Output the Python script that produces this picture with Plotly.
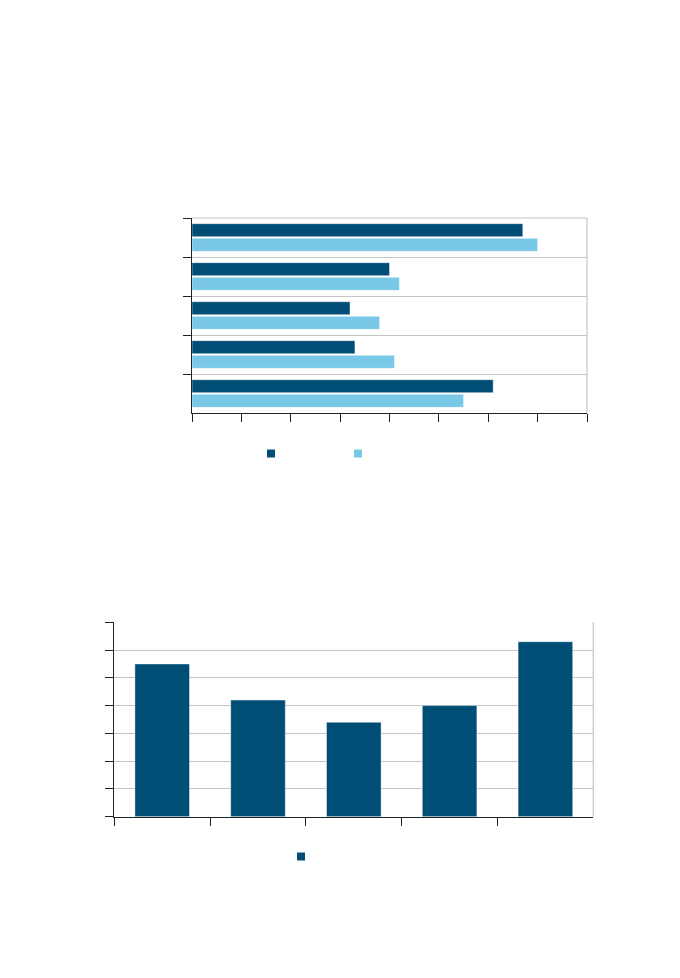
import plotly.graph_objects as go

# ---- data ----
top_categories = ["A", "B", "C", "D", "E"]          # top to bottom
top_dark = [6.7, 4.0, 3.2, 3.3, 6.1]
top_light = [7.0, 4.2, 3.8, 4.1, 5.5]

bottom_categories = ["A", "B", "C", "D", "E"]
bottom_values = [5.5, 4.2, 3.4, 4.0, 6.3]

DARK = "#004e75"
LIGHT = "#79c8e7"
GRID = "#c4c4c4"
AXIS = "#222222"

fig = go.Figure()

edge = dict(color="rgba(255,255,255,0.55)", width=0.8)

fig.add_trace(go.Bar(y=top_categories, x=top_dark, orientation="h", marker=dict(color=DARK, line=edge),
                     xaxis="x", yaxis="y", showlegend=False))
fig.add_trace(go.Bar(y=top_categories, x=top_light, orientation="h", marker=dict(color=LIGHT, line=edge),
                     xaxis="x", yaxis="y", showlegend=False))
fig.add_trace(go.Bar(x=bottom_categories, y=bottom_values, marker=dict(color=DARK, line=edge), width=0.57,
                     xaxis="x2", yaxis="y2", showlegend=False))

# legend-only markers
fig.add_trace(go.Scatter(x=[None], y=[None], mode="markers", name="",
                         marker=dict(symbol="square", size=8, color=DARK),
                         xaxis="x", yaxis="y", legend="legend"))
fig.add_trace(go.Scatter(x=[None], y=[None], mode="markers", name="",
                         marker=dict(symbol="square", size=8, color=LIGHT),
                         xaxis="x", yaxis="y", legend="legend"))
fig.add_trace(go.Scatter(x=[None], y=[None], mode="markers", name="",
                         marker=dict(symbol="square", size=8, color=DARK),
                         xaxis="x2", yaxis="y2", legend="legend2"))

W, H = 680, 978
OFF = 8  # page body margin
def px(x): return (x - OFF) / W
def py(y): return (H - (y - OFF)) / H

axis_common = dict(showline=True, linecolor=AXIS, linewidth=1.3, ticks="outside", ticklen=8,
                   tickwidth=1.3, tickcolor=AXIS, showticklabels=False, zeroline=False)

fig.update_layout(
    width=W, height=H,
    margin=dict(l=0, r=0, t=0, b=0),
    paper_bgcolor="white", plot_bgcolor="white",
    barmode="group", bargap=0.25, bargroupgap=0.11,
    font=dict(family="Liberation Sans", size=10),
    xaxis=dict(domain=[px(192), px(587)], anchor="y", range=[0, 8], dtick=1, showgrid=False, **axis_common),
    yaxis=dict(domain=[py(413), py(218)], anchor="x", type="category", autorange="reversed",
               tickson="boundaries", showgrid=True, gridcolor=GRID, gridwidth=1, **axis_common),
    xaxis2=dict(domain=[px(114.3), px(593.3)], anchor="y2", type="category", tickson="boundaries",
                showgrid=False, **axis_common),
    yaxis2=dict(domain=[py(816.7), py(622.3)], anchor="x2", range=[0, 7], dtick=1,
                showgrid=True, gridcolor=GRID, gridwidth=1, **axis_common),
    legend=dict(orientation="h", x=px(251), y=py(439), xanchor="left", yanchor="top",
                entrywidth=42, bgcolor="rgba(0,0,0,0)", borderwidth=0, font=dict(size=10)),
    legend2=dict(orientation="h", x=px(281), y=py(842), xanchor="left", yanchor="top",
                 bgcolor="rgba(0,0,0,0)", borderwidth=0, font=dict(size=10)),
    shapes=[
        dict(type="line", xref="x domain", yref="y domain", x0=1, x1=1, y0=0, y1=1,
             line=dict(color=GRID, width=1.2)),
        dict(type="line", xref="x domain", yref="y domain", x0=0, x1=1, y0=1, y1=1,
             line=dict(color=GRID, width=1.2)),
        dict(type="line", xref="x2 domain", yref="y2 domain", x0=1, x1=1, y0=0, y1=1,
             line=dict(color=GRID, width=1.2)),
    ],
)

fig.write_html("out.html")
